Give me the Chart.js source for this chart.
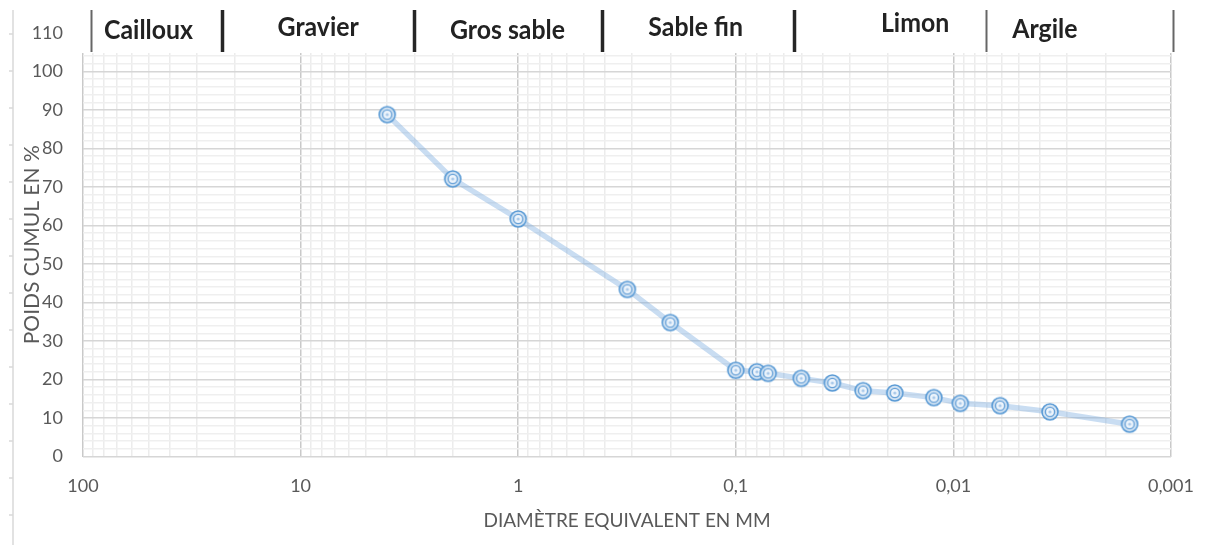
<!DOCTYPE html>
<html>
<head>
<meta charset="utf-8">
<script src="https://cdn.jsdelivr.net/npm/chart.js@4.4.0/dist/chart.umd.min.js"></script>
<style>
  html, body { margin: 0; padding: 0; background: #fff; }
  #wrap { width: 1205px; height: 545px; position: relative; }
</style>
</head>
<body>
<div id="wrap"><canvas id="granulo" width="1205" height="545"></canvas></div>
<script>
// diamètre équivalent (mm) et poids cumulé (%)
const diametres = [4, 2, 1, 0.315, 0.2, 0.1, 0.08, 0.071, 0.05, 0.036, 0.026, 0.0186, 0.0123, 0.0093, 0.0061, 0.0036, 0.00155];
const poidsCumul = [88.8, 72.1, 61.7, 43.4, 34.8, 22.4, 22.0, 21.6, 20.3, 19.1, 17.1, 16.5, 15.3, 13.8, 13.2, 11.6, 8.4];

const decades = [100, 10, 1, 0.1, 0.01, 0.001];
const decadeLabels = ['100', '10', '1', '0,1', '0,01', '0,001'];
const yTicks = [0, 10, 20, 30, 40, 50, 60, 70, 80, 90, 100, 110];

const classes = ['Cailloux', 'Gravier', 'Gros sable', 'Sable fin', 'Limon', 'Argile'];

// bandeau du haut (positions en mm sur l'axe)
const separateurs = [92, 23, 3, 0.41, 0.054, 0.0071, 0.00098];
const sepEpais = [false, true, true, true, true, false, false];
const centresClasses = [50, 8.3, 1.12, 0.153, 0.015, 0.0038];
const decalY = [30, 27, 30, 27, 23, 29];

function estDecade(v) {
    const l = Math.log10(v);
    return Math.abs(l - Math.round(l)) < 1e-6;
}

// marqueur double cercle
const marqueur = document.createElement('canvas');
marqueur.width = 22; marqueur.height = 22;
(function() {
    const c = marqueur.getContext('2d');
    c.beginPath(); c.arc(11, 11, 8, 0, Math.PI * 2);
    c.fillStyle = 'rgba(205,224,242,0.9)'; c.fill();
    c.lineWidth = 1.6; c.strokeStyle = '#5b9bd5'; c.stroke();
    c.beginPath(); c.arc(11, 11, 4.6, 0, Math.PI * 2);
    c.fillStyle = '#eef5fc'; c.fill();
    c.lineWidth = 1.4; c.strokeStyle = '#6aa3d8'; c.stroke();
    c.beginPath(); c.arc(11, 11, 1.6, 0, Math.PI * 2);
    c.fillStyle = '#a9c9ea'; c.fill();
})();

const bandeau = {
    id: 'bandeau',
    afterDraw(chart) {
        const c = chart.ctx;
        const x = chart.scales.x, y = chart.scales.y;
        const area = chart.chartArea;
        c.save();
        // masque la partie haute de la grille
        c.fillStyle = '#fff';
        c.fillRect(area.left - 2, 0, area.right - area.left + 6, y.getPixelForValue(104.8));
        // séparateurs
        separateurs.forEach((v, i) => {
            const px = Math.round(x.getPixelForValue(v)) + 0.5;
            c.beginPath();
            c.moveTo(px, 10); c.lineTo(px, 52);
            c.lineWidth = sepEpais[i] ? 3.5 : 2;
            c.strokeStyle = sepEpais[i] ? '#262626' : '#666';
            c.stroke();
        });
        c.fillStyle = '#222';
        c.font = 'bold 27px Lato, "Open Sans", sans-serif';
        c.textAlign = 'center';
        c.textBaseline = 'middle';
        classes.forEach((t, i) => {
            c.save();
            c.translate(x.getPixelForValue(centresClasses[i]), decalY[i]);
            c.scale(0.92, 1);
            c.fillText(t, 0, 0);
            c.restore();
        });
        // trait de marge à gauche
        c.strokeStyle = '#d9d9d9';
        c.lineWidth = 1.5;
        c.beginPath(); c.moveTo(13, 10); c.lineTo(13, 545); c.stroke();
        for (let ty = 34; ty < 545; ty += 37) {
            c.beginPath(); c.moveTo(9, ty); c.lineTo(13, ty); c.stroke();
        }
        c.restore();
    }
};

const ctx = document.getElementById('granulo').getContext('2d');

new Chart(ctx, {
    type: 'line',
    data: {
        datasets: [{
            label: 'Poids cumulé',
            data: diametres.map((d, i) => ({ x: d, y: poidsCumul[i] })),
            borderColor: 'rgba(120,170,222,0.4)',
            borderWidth: 5.5,
            pointStyle: marqueur,
            pointRadius: 9,
            pointHoverRadius: 9,
            tension: 0
        }]
    },
    options: {
        responsive: false,
        animation: false,
        layout: { padding: { left: 0, right: 34, top: 33, bottom: 0 } },
        plugins: {
            legend: { display: false },
            tooltip: { enabled: false }
        },
        scales: {
            x: {
                type: 'logarithmic',
                reverse: true,
                min: 0.001,
                max: 100,
                afterBuildTicks: function(scale) {
                    const t = [];
                    for (let e = -3; e <= 1; e++) {
                        for (let m = 1; m <= 9; m++) t.push({ value: m * Math.pow(10, e) });
                    }
                    t.push({ value: 100 });
                    scale.ticks = t;
                },
                afterFit: function(scale) { scale.height = 88.5; },
                ticks: {
                    autoSkip: false,
                    maxRotation: 0,
                    padding: 19,
                    color: '#595959',
                    font: { family: 'Lato, "Open Sans", sans-serif', size: 18 },
                    callback: function(v) {
                        const i = decades.findIndex(d => Math.abs(d - v) / d < 1e-6);
                        return i >= 0 ? decadeLabels[i] : '';
                    }
                },
                grid: {
                    drawTicks: false,
                    color: c => estDecade(c.tick.value) ? '#c9c9c9' : '#ececec',
                    lineWidth: 1.5
                },
                border: { display: false },
                title: {
                    display: true,
                    text: 'DIAMÈTRE EQUIVALENT EN MM',
                    color: '#595959',
                    font: { family: 'Lato, "Open Sans", sans-serif', size: 19 },
                    padding: { top: 0, bottom: 13 }
                }
            },
            y: {
                min: 0,
                max: 110,
                afterBuildTicks: function(scale) {
                    const t = [];
                    for (let v = 0; v <= 110; v += 2) t.push({ value: v });
                    scale.ticks = t;
                },
                afterFit: function(scale) { scale.width = 83; },
                ticks: {
                    autoSkip: false,
                    padding: 20,
                    color: '#595959',
                    font: { family: 'Lato, "Open Sans", sans-serif', size: 18 },
                    callback: v => yTicks.includes(v) ? String(v) : ''
                },
                grid: {
                    drawTicks: false,
                    color: c => c.tick.value % 10 === 0 ? '#d6d6d6' : '#efefef',
                    lineWidth: 1.5
                },
                border: { display: false },
                title: {
                    display: true,
                    text: 'POIDS CUMUL EN %',
                    color: '#595959',
                    font: { family: 'Lato, "Open Sans", sans-serif', size: 21 },
                    padding: { top: 20, bottom: 0 }
                }
            }
        }
    },
    plugins: [bandeau]
});
</script>
</body>
</html>
